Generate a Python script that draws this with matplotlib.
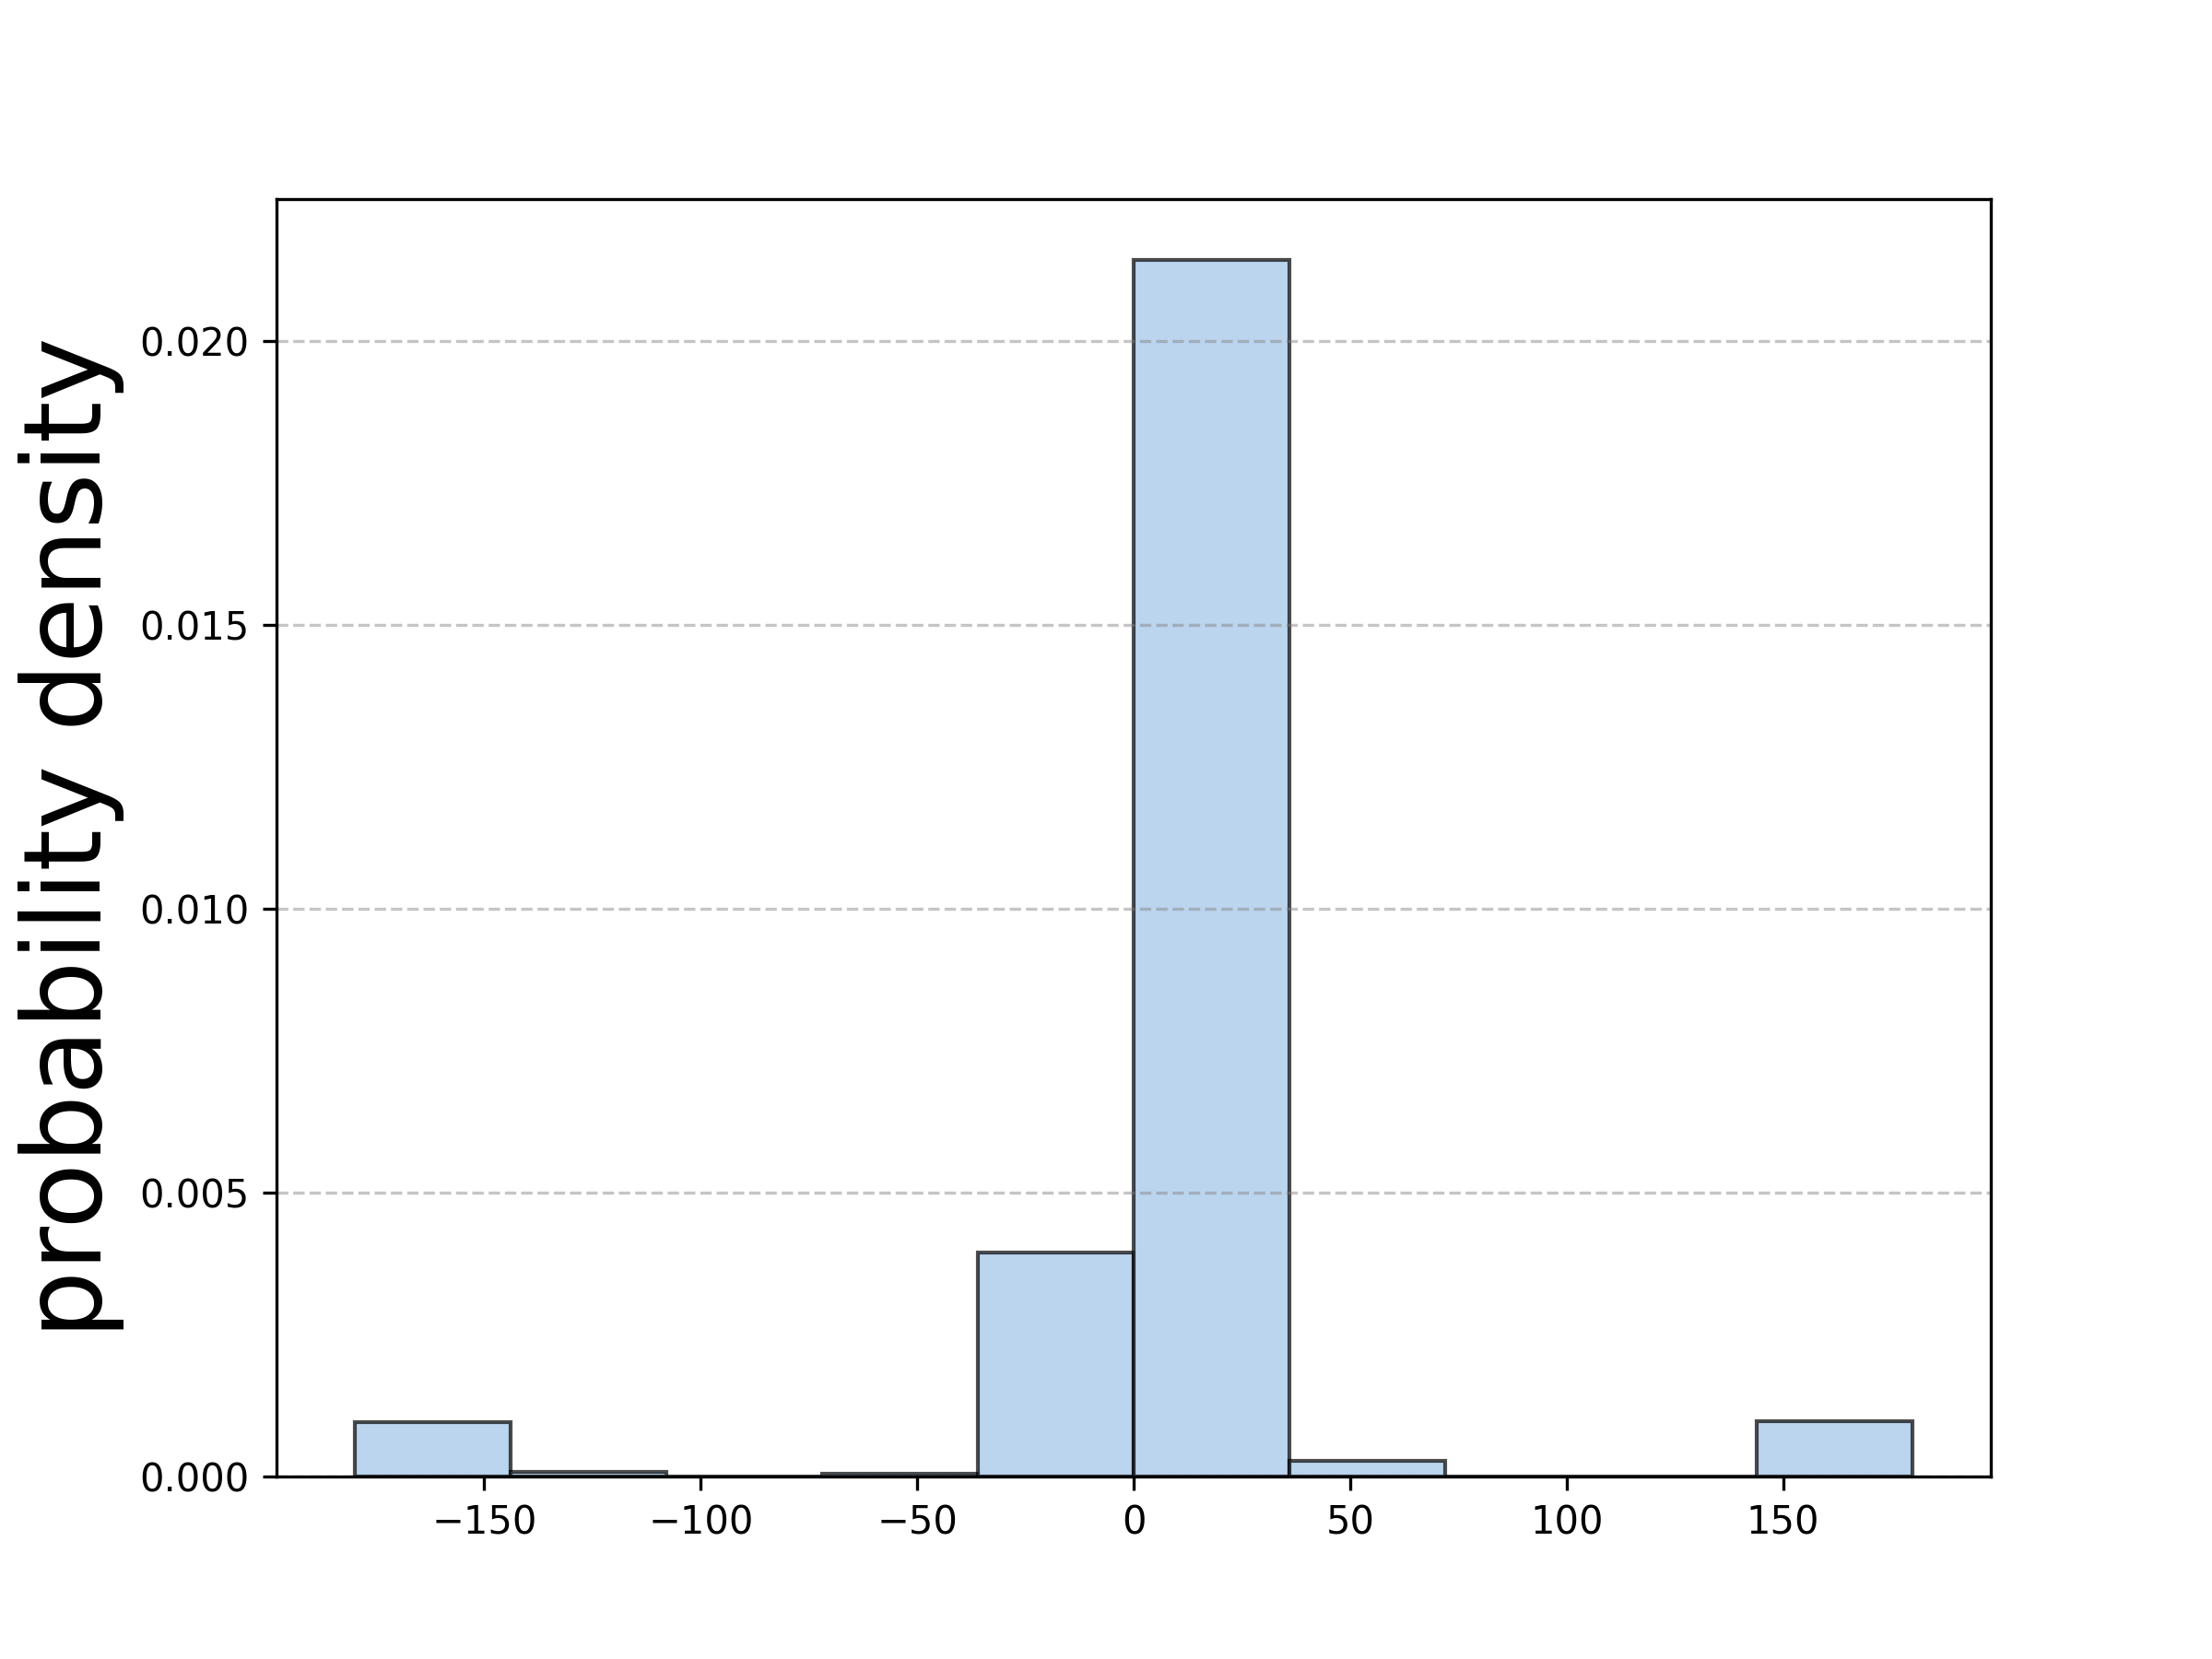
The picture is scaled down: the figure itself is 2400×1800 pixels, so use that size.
import matplotlib
matplotlib.use("Agg")
import matplotlib.pyplot as plt
import numpy as np

# Histogram data (probability density per bin)
bin_edges = [-180, -144, -108, -72, -36, 0, 36, 72, 108, 144, 180]
densities = [0.00096, 0.00008, 0.0, 0.00005, 0.00394, 0.02142, 0.00027, 0.0, 0.0, 0.00098]
y_ticks = [0.000, 0.005, 0.010, 0.015, 0.020]
x_ticks = [-150, -100, -50, 0, 50, 100, 150]

centers = [(bin_edges[i] + bin_edges[i + 1]) / 2 for i in range(len(densities))]

fig, ax = plt.subplots(figsize=(8, 6), dpi=300)
ax.hist(centers, bins=bin_edges, weights=densities,
        facecolor="#9fc4e7", edgecolor="black", alpha=0.7, linewidth=1.0)
ax.set_ylabel("probability density", fontsize=28)
ax.set_yticks(y_ticks)
ax.set_xticks(x_ticks)
ax.grid(axis="y", linestyle="--", color="gray", alpha=0.45)
fig.savefig("out.png", dpi=300)
